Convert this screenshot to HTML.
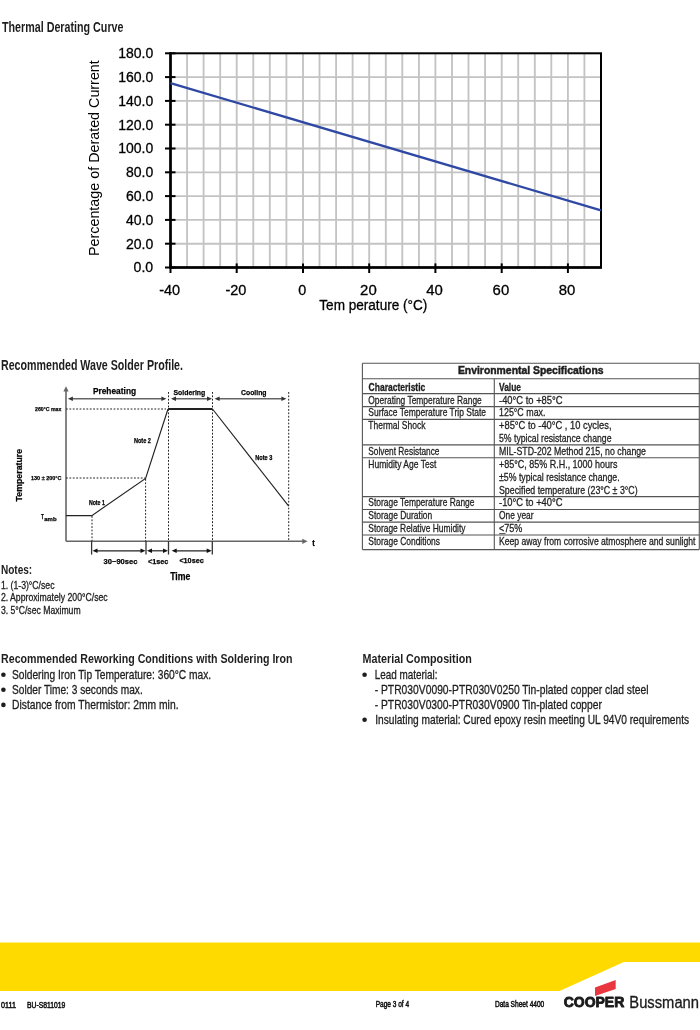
<!DOCTYPE html>
<html><head><meta charset="utf-8"><title>Data Sheet 4400</title>
<style>
html,body{margin:0;padding:0;background:#fff;}
body{width:700px;height:1030px;overflow:hidden;}
svg{display:block;font-family:"Liberation Sans", sans-serif;will-change:transform;}
</style></head><body>
<svg width="700" height="1030" viewBox="0 0 700 1030">
<text x="2.0" y="31.5" font-size="14.1" textLength="121.5" lengthAdjust="spacingAndGlyphs" font-weight="bold" fill="#1e1e1e">Thermal Derating Curve</text>
<line x1="170.5" y1="243.7" x2="601.0" y2="243.7" stroke="#c3c3c3" stroke-width="1.85"/>
<line x1="170.5" y1="219.9" x2="601.0" y2="219.9" stroke="#c3c3c3" stroke-width="1.85"/>
<line x1="170.5" y1="196.1" x2="601.0" y2="196.1" stroke="#c3c3c3" stroke-width="1.85"/>
<line x1="170.5" y1="172.3" x2="601.0" y2="172.3" stroke="#c3c3c3" stroke-width="1.85"/>
<line x1="170.5" y1="148.5" x2="601.0" y2="148.5" stroke="#c3c3c3" stroke-width="1.85"/>
<line x1="170.5" y1="124.7" x2="601.0" y2="124.7" stroke="#c3c3c3" stroke-width="1.85"/>
<line x1="170.5" y1="100.9" x2="601.0" y2="100.9" stroke="#c3c3c3" stroke-width="1.85"/>
<line x1="170.5" y1="77.1" x2="601.0" y2="77.1" stroke="#c3c3c3" stroke-width="1.85"/>
<line x1="187.1" y1="53.3" x2="187.1" y2="267.5" stroke="#c3c3c3" stroke-width="1.85"/>
<line x1="203.6" y1="53.3" x2="203.6" y2="267.5" stroke="#c3c3c3" stroke-width="1.85"/>
<line x1="220.2" y1="53.3" x2="220.2" y2="267.5" stroke="#c3c3c3" stroke-width="1.85"/>
<line x1="236.7" y1="53.3" x2="236.7" y2="267.5" stroke="#c3c3c3" stroke-width="1.85"/>
<line x1="253.3" y1="53.3" x2="253.3" y2="267.5" stroke="#c3c3c3" stroke-width="1.85"/>
<line x1="269.8" y1="53.3" x2="269.8" y2="267.5" stroke="#c3c3c3" stroke-width="1.85"/>
<line x1="286.4" y1="53.3" x2="286.4" y2="267.5" stroke="#c3c3c3" stroke-width="1.85"/>
<line x1="303.0" y1="53.3" x2="303.0" y2="267.5" stroke="#c3c3c3" stroke-width="1.85"/>
<line x1="319.5" y1="53.3" x2="319.5" y2="267.5" stroke="#c3c3c3" stroke-width="1.85"/>
<line x1="336.1" y1="53.3" x2="336.1" y2="267.5" stroke="#c3c3c3" stroke-width="1.85"/>
<line x1="352.6" y1="53.3" x2="352.6" y2="267.5" stroke="#c3c3c3" stroke-width="1.85"/>
<line x1="369.2" y1="53.3" x2="369.2" y2="267.5" stroke="#c3c3c3" stroke-width="1.85"/>
<line x1="385.8" y1="53.3" x2="385.8" y2="267.5" stroke="#c3c3c3" stroke-width="1.85"/>
<line x1="402.3" y1="53.3" x2="402.3" y2="267.5" stroke="#c3c3c3" stroke-width="1.85"/>
<line x1="418.9" y1="53.3" x2="418.9" y2="267.5" stroke="#c3c3c3" stroke-width="1.85"/>
<line x1="435.4" y1="53.3" x2="435.4" y2="267.5" stroke="#c3c3c3" stroke-width="1.85"/>
<line x1="452.0" y1="53.3" x2="452.0" y2="267.5" stroke="#c3c3c3" stroke-width="1.85"/>
<line x1="468.5" y1="53.3" x2="468.5" y2="267.5" stroke="#c3c3c3" stroke-width="1.85"/>
<line x1="485.1" y1="53.3" x2="485.1" y2="267.5" stroke="#c3c3c3" stroke-width="1.85"/>
<line x1="501.7" y1="53.3" x2="501.7" y2="267.5" stroke="#c3c3c3" stroke-width="1.85"/>
<line x1="518.2" y1="53.3" x2="518.2" y2="267.5" stroke="#c3c3c3" stroke-width="1.85"/>
<line x1="534.8" y1="53.3" x2="534.8" y2="267.5" stroke="#c3c3c3" stroke-width="1.85"/>
<line x1="551.3" y1="53.3" x2="551.3" y2="267.5" stroke="#c3c3c3" stroke-width="1.85"/>
<line x1="567.9" y1="53.3" x2="567.9" y2="267.5" stroke="#c3c3c3" stroke-width="1.85"/>
<line x1="584.4" y1="53.3" x2="584.4" y2="267.5" stroke="#c3c3c3" stroke-width="1.85"/>
<rect x="170.5" y="53.3" width="430.5" height="214.2" fill="none" stroke="#000" stroke-width="2"/>
<line x1="170.5" y1="52.3" x2="170.5" y2="268.5" stroke="#000" stroke-width="2.5"/>
<line x1="169.5" y1="267.5" x2="602.0" y2="267.5" stroke="#000" stroke-width="2.5"/>
<line x1="165.0" y1="267.5" x2="175.5" y2="267.5" stroke="#000" stroke-width="2"/>
<text x="153.2" y="272.4" font-size="15.1" textLength="19.6" lengthAdjust="spacingAndGlyphs" text-anchor="end" stroke="#000" stroke-width="0.3">0.0</text>
<line x1="165.0" y1="243.7" x2="175.5" y2="243.7" stroke="#000" stroke-width="2"/>
<text x="153.2" y="248.6" font-size="15.1" textLength="27.3" lengthAdjust="spacingAndGlyphs" text-anchor="end" stroke="#000" stroke-width="0.3">20.0</text>
<line x1="165.0" y1="219.9" x2="175.5" y2="219.9" stroke="#000" stroke-width="2"/>
<text x="153.2" y="224.8" font-size="15.1" textLength="27.3" lengthAdjust="spacingAndGlyphs" text-anchor="end" stroke="#000" stroke-width="0.3">40.0</text>
<line x1="165.0" y1="196.1" x2="175.5" y2="196.1" stroke="#000" stroke-width="2"/>
<text x="153.2" y="201.0" font-size="15.1" textLength="27.3" lengthAdjust="spacingAndGlyphs" text-anchor="end" stroke="#000" stroke-width="0.3">60.0</text>
<line x1="165.0" y1="172.3" x2="175.5" y2="172.3" stroke="#000" stroke-width="2"/>
<text x="153.2" y="177.2" font-size="15.1" textLength="27.3" lengthAdjust="spacingAndGlyphs" text-anchor="end" stroke="#000" stroke-width="0.3">80.0</text>
<line x1="165.0" y1="148.5" x2="175.5" y2="148.5" stroke="#000" stroke-width="2"/>
<text x="153.2" y="153.4" font-size="15.1" textLength="35.0" lengthAdjust="spacingAndGlyphs" text-anchor="end" stroke="#000" stroke-width="0.3">100.0</text>
<line x1="165.0" y1="124.7" x2="175.5" y2="124.7" stroke="#000" stroke-width="2"/>
<text x="153.2" y="129.6" font-size="15.1" textLength="35.0" lengthAdjust="spacingAndGlyphs" text-anchor="end" stroke="#000" stroke-width="0.3">120.0</text>
<line x1="165.0" y1="100.9" x2="175.5" y2="100.9" stroke="#000" stroke-width="2"/>
<text x="153.2" y="105.8" font-size="15.1" textLength="35.0" lengthAdjust="spacingAndGlyphs" text-anchor="end" stroke="#000" stroke-width="0.3">140.0</text>
<line x1="165.0" y1="77.1" x2="175.5" y2="77.1" stroke="#000" stroke-width="2"/>
<text x="153.2" y="82.0" font-size="15.1" textLength="35.0" lengthAdjust="spacingAndGlyphs" text-anchor="end" stroke="#000" stroke-width="0.3">160.0</text>
<line x1="165.0" y1="53.3" x2="175.5" y2="53.3" stroke="#000" stroke-width="2"/>
<text x="153.2" y="58.2" font-size="15.1" textLength="35.0" lengthAdjust="spacingAndGlyphs" text-anchor="end" stroke="#000" stroke-width="0.3">180.0</text>
<line x1="170.5" y1="263.4" x2="170.5" y2="273.0" stroke="#000" stroke-width="2"/>
<text x="169.7" y="295.0" font-size="15.1" textLength="21.0" lengthAdjust="spacingAndGlyphs" text-anchor="middle" stroke="#000" stroke-width="0.3">-40</text>
<line x1="236.7" y1="263.4" x2="236.7" y2="273.0" stroke="#000" stroke-width="2"/>
<text x="235.9" y="295.0" font-size="15.1" textLength="21.0" lengthAdjust="spacingAndGlyphs" text-anchor="middle" stroke="#000" stroke-width="0.3">-20</text>
<line x1="303.0" y1="263.4" x2="303.0" y2="273.0" stroke="#000" stroke-width="2"/>
<text x="302.2" y="295.0" font-size="15.1" textLength="8.0" lengthAdjust="spacingAndGlyphs" text-anchor="middle" stroke="#000" stroke-width="0.3">0</text>
<line x1="369.2" y1="263.4" x2="369.2" y2="273.0" stroke="#000" stroke-width="2"/>
<text x="368.4" y="295.0" font-size="15.1" textLength="16.6" lengthAdjust="spacingAndGlyphs" text-anchor="middle" stroke="#000" stroke-width="0.3">20</text>
<line x1="435.4" y1="263.4" x2="435.4" y2="273.0" stroke="#000" stroke-width="2"/>
<text x="434.6" y="295.0" font-size="15.1" textLength="16.6" lengthAdjust="spacingAndGlyphs" text-anchor="middle" stroke="#000" stroke-width="0.3">40</text>
<line x1="501.7" y1="263.4" x2="501.7" y2="273.0" stroke="#000" stroke-width="2"/>
<text x="500.9" y="295.0" font-size="15.1" textLength="16.6" lengthAdjust="spacingAndGlyphs" text-anchor="middle" stroke="#000" stroke-width="0.3">60</text>
<line x1="567.9" y1="263.4" x2="567.9" y2="273.0" stroke="#000" stroke-width="2"/>
<text x="567.1" y="295.0" font-size="15.1" textLength="16.6" lengthAdjust="spacingAndGlyphs" text-anchor="middle" stroke="#000" stroke-width="0.3">80</text>
<line x1="170.5" y1="83.1" x2="601.0" y2="210.4" stroke="#2e48a3" stroke-width="2.3"/>
<text x="319.3" y="309.5" font-size="15.1" textLength="108.0" lengthAdjust="spacingAndGlyphs" stroke="#000" stroke-width="0.3">Tem perature (°C)</text>
<text transform="translate(98.6,256) rotate(-90)" font-size="15.1" textLength="195.8" lengthAdjust="spacingAndGlyphs">Percentage of Derated  Current</text>
<text x="1.0" y="370.4" font-size="14.5" textLength="182.0" lengthAdjust="spacingAndGlyphs" font-weight="bold" fill="#1e1e1e">Recommended Wave Solder Profile.</text>
<line x1="66.0" y1="389.0" x2="66.0" y2="541.3" stroke="#666" stroke-width="1.6"/>
<path d="M66,386.2 L63.4,391.5 L68.6,391.5 Z" fill="#666" stroke="none" stroke-width="1"/>
<line x1="66.0" y1="541.3" x2="304.0" y2="541.3" stroke="#666" stroke-width="1.6"/>
<path d="M307.6,541.3 L302.3,538.7 L302.3,543.9 Z" fill="#666" stroke="none" stroke-width="1"/>
<line x1="70.9" y1="398.8" x2="163.4" y2="398.8" stroke="#666" stroke-width="1.6"/>
<path d="M67.9,398.8 L72.9,396.5 L72.9,401.1 Z" fill="#333" stroke="none" stroke-width="1"/>
<path d="M166.4,398.8 L161.4,396.5 L161.4,401.1 Z" fill="#333" stroke="none" stroke-width="1"/>
<line x1="174.0" y1="398.8" x2="209.0" y2="398.8" stroke="#666" stroke-width="1.6"/>
<path d="M171.0,398.8 L176.0,396.5 L176.0,401.1 Z" fill="#333" stroke="none" stroke-width="1"/>
<path d="M212.0,398.8 L207.0,396.5 L207.0,401.1 Z" fill="#333" stroke="none" stroke-width="1"/>
<line x1="217.6" y1="398.8" x2="283.4" y2="398.8" stroke="#666" stroke-width="1.6"/>
<path d="M214.6,398.8 L219.6,396.5 L219.6,401.1 Z" fill="#333" stroke="none" stroke-width="1"/>
<path d="M286.4,398.8 L281.4,396.5 L281.4,401.1 Z" fill="#333" stroke="none" stroke-width="1"/>
<line x1="168.5" y1="392.0" x2="168.5" y2="541.0" stroke="#222" stroke-width="1" stroke-dasharray="1.8,1.6"/>
<line x1="212.5" y1="392.0" x2="212.5" y2="541.0" stroke="#222" stroke-width="1" stroke-dasharray="1.8,1.6"/>
<line x1="288.7" y1="392.0" x2="288.7" y2="541.0" stroke="#222" stroke-width="1" stroke-dasharray="1.8,1.6"/>
<line x1="92.0" y1="516.0" x2="92.0" y2="541.0" stroke="#222" stroke-width="1" stroke-dasharray="1.8,1.6"/>
<line x1="145.6" y1="479.0" x2="145.6" y2="541.0" stroke="#222" stroke-width="1" stroke-dasharray="1.8,1.6"/>
<line x1="66.0" y1="409.0" x2="166.0" y2="409.0" stroke="#222" stroke-width="1" stroke-dasharray="1.8,1.6"/>
<line x1="66.0" y1="478.0" x2="145.0" y2="478.0" stroke="#222" stroke-width="1" stroke-dasharray="1.8,1.6"/>
<line x1="91.6" y1="541.0" x2="91.6" y2="554.6" stroke="#333" stroke-width="1.3"/>
<line x1="146.0" y1="541.0" x2="146.0" y2="554.6" stroke="#333" stroke-width="1.3"/>
<line x1="168.5" y1="541.0" x2="168.5" y2="554.6" stroke="#333" stroke-width="1.3"/>
<line x1="212.3" y1="541.0" x2="212.3" y2="554.6" stroke="#333" stroke-width="1.3"/>
<line x1="95.5" y1="550.8" x2="142.5" y2="550.8" stroke="#222" stroke-width="1.2"/>
<path d="M92.5,550.8 L97.5,548.5 L97.5,553.0999999999999 Z" fill="#111" stroke="none" stroke-width="1"/>
<path d="M145.5,550.8 L140.5,548.5 L140.5,553.0999999999999 Z" fill="#111" stroke="none" stroke-width="1"/>
<line x1="150.0" y1="550.8" x2="165.0" y2="550.8" stroke="#222" stroke-width="1.2"/>
<path d="M147,550.8 L152,548.5 L152,553.0999999999999 Z" fill="#111" stroke="none" stroke-width="1"/>
<path d="M168,550.8 L163,548.5 L163,553.0999999999999 Z" fill="#111" stroke="none" stroke-width="1"/>
<line x1="174.7" y1="550.8" x2="208.7" y2="550.8" stroke="#222" stroke-width="1.2"/>
<path d="M171.7,550.8 L176.7,548.5 L176.7,553.0999999999999 Z" fill="#111" stroke="none" stroke-width="1"/>
<path d="M211.7,550.8 L206.7,548.5 L206.7,553.0999999999999 Z" fill="#111" stroke="none" stroke-width="1"/>
<path d="M66,515.6 L91.8,515.6 L145.6,478.5 L168,409" fill="none" stroke="#222" stroke-width="1.15"/>
<line x1="168.0" y1="409.0" x2="212.5" y2="409.0" stroke="#222" stroke-width="2.2"/>
<line x1="212.5" y1="409.0" x2="288.7" y2="506.2" stroke="#222" stroke-width="1.15"/>
<text x="92.9" y="393.6" font-size="9.4" textLength="43.2" lengthAdjust="spacingAndGlyphs" font-weight="bold" stroke="#000" stroke-width="0.25">Preheating</text>
<text x="173.5" y="395.2" font-size="7.7" textLength="31.8" lengthAdjust="spacingAndGlyphs" font-weight="bold" stroke="#000" stroke-width="0.25">Soldering</text>
<text x="241.0" y="395.4" font-size="7.7" textLength="25.5" lengthAdjust="spacingAndGlyphs" font-weight="bold" stroke="#000" stroke-width="0.25">Cooling</text>
<text x="35.0" y="411.3" font-size="6" textLength="26.4" lengthAdjust="spacingAndGlyphs" font-weight="bold" stroke="#000" stroke-width="0.25">260°C max</text>
<text x="31.0" y="480.2" font-size="6" textLength="30.4" lengthAdjust="spacingAndGlyphs" font-weight="bold" stroke="#000" stroke-width="0.25">130 ± 200°C</text>
<text x="133.9" y="443.3" font-size="6.5" textLength="17.1" lengthAdjust="spacingAndGlyphs" font-weight="bold" stroke="#000" stroke-width="0.25">Note 2</text>
<text x="88.9" y="504.8" font-size="6.5" textLength="16.0" lengthAdjust="spacingAndGlyphs" font-weight="bold" stroke="#000" stroke-width="0.25">Note 1</text>
<text x="255.2" y="459.9" font-size="6.5" textLength="17.2" lengthAdjust="spacingAndGlyphs" font-weight="bold" stroke="#000" stroke-width="0.25">Note 3</text>
<text x="41.1" y="518.7" font-size="6.3" textLength="2.8" lengthAdjust="spacingAndGlyphs" font-weight="bold" stroke="#000" stroke-width="0.25">T</text>
<text x="44.3" y="520.5" font-size="6" textLength="12.3" lengthAdjust="spacingAndGlyphs" font-weight="bold" stroke="#000" stroke-width="0.25">amb</text>
<text transform="translate(22.4,501.4) rotate(-90)" font-size="9.5" font-weight="bold" stroke="#000" stroke-width="0.25" textLength="52.5" lengthAdjust="spacingAndGlyphs">Temperature</text>
<text x="103.6" y="563.6" font-size="7.5" textLength="33.8" lengthAdjust="spacingAndGlyphs" font-weight="bold" stroke="#000" stroke-width="0.25">30~90sec</text>
<text x="148.1" y="563.6" font-size="7.5" textLength="20.2" lengthAdjust="spacingAndGlyphs" font-weight="bold" stroke="#000" stroke-width="0.25">&lt;1sec</text>
<text x="179.4" y="563.4" font-size="7.5" textLength="24.3" lengthAdjust="spacingAndGlyphs" font-weight="bold" stroke="#000" stroke-width="0.25">&lt;10sec</text>
<text x="170.2" y="579.5" font-size="10.2" textLength="20.2" lengthAdjust="spacingAndGlyphs" font-weight="bold" stroke="#000" stroke-width="0.25">Time</text>
<text x="312.3" y="545.8" font-size="8.5" textLength="2.6" lengthAdjust="spacingAndGlyphs" font-weight="bold" stroke="#000" stroke-width="0.25">t</text>
<text x="0.9" y="574.1" font-size="12.8" textLength="31.3" lengthAdjust="spacingAndGlyphs" font-weight="bold" fill="#1e1e1e">Notes:</text>
<text x="0.9" y="588.7" font-size="10.2" textLength="53.6" lengthAdjust="spacingAndGlyphs" fill="#1e1e1e" stroke="#1e1e1e" stroke-width="0.3">1. (1-3)°C/sec</text>
<text x="0.9" y="601.1" font-size="10.2" textLength="106.8" lengthAdjust="spacingAndGlyphs" fill="#1e1e1e" stroke="#1e1e1e" stroke-width="0.3">2. Approximately 200°C/sec</text>
<text x="0.9" y="613.6" font-size="10.2" textLength="79.7" lengthAdjust="spacingAndGlyphs" fill="#1e1e1e" stroke="#1e1e1e" stroke-width="0.3">3. 5°C/sec Maximum</text>
<line x1="362.4" y1="363.3" x2="699.3" y2="363.3" stroke="#555" stroke-width="1.1"/>
<line x1="362.4" y1="378.8" x2="699.3" y2="378.8" stroke="#555" stroke-width="1.1"/>
<line x1="362.4" y1="393.6" x2="699.3" y2="393.6" stroke="#555" stroke-width="1.1"/>
<line x1="362.4" y1="406.6" x2="699.3" y2="406.6" stroke="#555" stroke-width="1.1"/>
<line x1="362.4" y1="419.4" x2="699.3" y2="419.4" stroke="#555" stroke-width="1.1"/>
<line x1="362.4" y1="444.9" x2="699.3" y2="444.9" stroke="#555" stroke-width="1.1"/>
<line x1="362.4" y1="457.8" x2="699.3" y2="457.8" stroke="#555" stroke-width="1.1"/>
<line x1="362.4" y1="496.6" x2="699.3" y2="496.6" stroke="#555" stroke-width="1.1"/>
<line x1="362.4" y1="509.5" x2="699.3" y2="509.5" stroke="#555" stroke-width="1.1"/>
<line x1="362.4" y1="522.1" x2="699.3" y2="522.1" stroke="#555" stroke-width="1.1"/>
<line x1="362.4" y1="535.0" x2="699.3" y2="535.0" stroke="#555" stroke-width="1.1"/>
<line x1="362.4" y1="549.6" x2="699.3" y2="549.6" stroke="#555" stroke-width="1.1"/>
<line x1="362.4" y1="363.3" x2="362.4" y2="549.6" stroke="#555" stroke-width="1.1"/>
<line x1="699.3" y1="363.3" x2="699.3" y2="549.6" stroke="#555" stroke-width="1.1"/>
<line x1="494.3" y1="378.8" x2="494.3" y2="549.6" stroke="#555" stroke-width="1.1"/>
<text x="457.9" y="374.3" font-size="10.6" textLength="145.7" lengthAdjust="spacingAndGlyphs" font-weight="bold" fill="#1e1e1e" stroke="#1e1e1e" stroke-width="0.45">Environmental Specifications</text>
<text x="368.6" y="390.5" font-size="10.3" textLength="56.7" lengthAdjust="spacingAndGlyphs" font-weight="bold" fill="#1e1e1e" stroke="#1e1e1e" stroke-width="0.3">Characteristic</text>
<text x="499.0" y="390.5" font-size="10.3" textLength="22.0" lengthAdjust="spacingAndGlyphs" font-weight="bold" fill="#1e1e1e" stroke="#1e1e1e" stroke-width="0.3">Value</text>
<text x="368.3" y="403.6" font-size="11.3" textLength="113.5" lengthAdjust="spacingAndGlyphs" fill="#1e1e1e" stroke="#1e1e1e" stroke-width="0.3">Operating Temperature Range</text>
<text x="368.3" y="415.6" font-size="11.3" textLength="117.8" lengthAdjust="spacingAndGlyphs" fill="#1e1e1e" stroke="#1e1e1e" stroke-width="0.3">Surface Temperature Trip State</text>
<text x="368.3" y="428.7" font-size="11.3" textLength="57.1" lengthAdjust="spacingAndGlyphs" fill="#1e1e1e" stroke="#1e1e1e" stroke-width="0.3">Thermal Shock</text>
<text x="368.3" y="454.6" font-size="11.3" textLength="71.2" lengthAdjust="spacingAndGlyphs" fill="#1e1e1e" stroke="#1e1e1e" stroke-width="0.3">Solvent Resistance</text>
<text x="368.3" y="467.5" font-size="11.3" textLength="68.1" lengthAdjust="spacingAndGlyphs" fill="#1e1e1e" stroke="#1e1e1e" stroke-width="0.3">Humidity Age Test</text>
<text x="368.3" y="506.3" font-size="11.3" textLength="106.2" lengthAdjust="spacingAndGlyphs" fill="#1e1e1e" stroke="#1e1e1e" stroke-width="0.3">Storage Temperature Range</text>
<text x="368.3" y="518.9" font-size="11.3" textLength="63.9" lengthAdjust="spacingAndGlyphs" fill="#1e1e1e" stroke="#1e1e1e" stroke-width="0.3">Storage Duration</text>
<text x="368.3" y="531.8" font-size="11.3" textLength="97.2" lengthAdjust="spacingAndGlyphs" fill="#1e1e1e" stroke="#1e1e1e" stroke-width="0.3">Storage Relative Humidity</text>
<text x="368.3" y="544.7" font-size="11.3" textLength="71.7" lengthAdjust="spacingAndGlyphs" fill="#1e1e1e" stroke="#1e1e1e" stroke-width="0.3">Storage Conditions</text>
<text x="499.0" y="403.6" font-size="11.3" textLength="63.6" lengthAdjust="spacingAndGlyphs" fill="#1e1e1e" stroke="#1e1e1e" stroke-width="0.3">-40°C to +85°C</text>
<text x="499.0" y="415.6" font-size="11.3" textLength="46.5" lengthAdjust="spacingAndGlyphs" fill="#1e1e1e" stroke="#1e1e1e" stroke-width="0.3">125°C max.</text>
<text x="499.0" y="428.7" font-size="11.3" textLength="112.5" lengthAdjust="spacingAndGlyphs" fill="#1e1e1e" stroke="#1e1e1e" stroke-width="0.3">+85°C  to -40°C , 10 cycles,</text>
<text x="499.0" y="441.6" font-size="11.3" textLength="112.5" lengthAdjust="spacingAndGlyphs" fill="#1e1e1e" stroke="#1e1e1e" stroke-width="0.3">5% typical resistance change</text>
<text x="499.0" y="454.6" font-size="11.3" textLength="147.0" lengthAdjust="spacingAndGlyphs" fill="#1e1e1e" stroke="#1e1e1e" stroke-width="0.3">MIL-STD-202 Method 215, no change</text>
<text x="499.0" y="467.5" font-size="11.3" textLength="118.5" lengthAdjust="spacingAndGlyphs" fill="#1e1e1e" stroke="#1e1e1e" stroke-width="0.3">+85°C, 85% R.H., 1000 hours</text>
<text x="499.0" y="480.5" font-size="11.3" textLength="120.6" lengthAdjust="spacingAndGlyphs" fill="#1e1e1e" stroke="#1e1e1e" stroke-width="0.3">±5% typical resistance change.</text>
<text x="499.0" y="493.6" font-size="11.3" textLength="138.6" lengthAdjust="spacingAndGlyphs" fill="#1e1e1e" stroke="#1e1e1e" stroke-width="0.3">Specified temperature (23°C ± 3°C)</text>
<text x="499.0" y="506.3" font-size="11.3" textLength="63.6" lengthAdjust="spacingAndGlyphs" fill="#1e1e1e" stroke="#1e1e1e" stroke-width="0.3">-10°C to +40°C</text>
<text x="499.0" y="518.9" font-size="11.3" textLength="34.5" lengthAdjust="spacingAndGlyphs" fill="#1e1e1e" stroke="#1e1e1e" stroke-width="0.3">One year</text>
<text x="499.0" y="531.8" font-size="11.3" textLength="23.4" lengthAdjust="spacingAndGlyphs" fill="#1e1e1e" stroke="#1e1e1e" stroke-width="0.3">&lt;75%</text>
<text x="499.0" y="544.7" font-size="11.3" textLength="196.5" lengthAdjust="spacingAndGlyphs" fill="#1e1e1e" stroke="#1e1e1e" stroke-width="0.3">Keep away from corrosive atmosphere and sunlight</text>
<line x1="499.2" y1="533.6" x2="505.5" y2="533.6" stroke="#1e1e1e" stroke-width="0.8"/>
<text x="1.1" y="662.8" font-size="12.8" textLength="291.4" lengthAdjust="spacingAndGlyphs" font-weight="bold" fill="#1e1e1e">Recommended Reworking Conditions with Soldering Iron</text>
<circle cx="3.4" cy="674.8" r="2.3" fill="#1e1e1e"/>
<text x="12.0" y="678.9" font-size="12.6" textLength="199.2" lengthAdjust="spacingAndGlyphs" fill="#1e1e1e" stroke="#1e1e1e" stroke-width="0.3">Soldering Iron Tip Temperature: 360°C max.</text>
<circle cx="3.4" cy="689.8" r="2.3" fill="#1e1e1e"/>
<text x="12.0" y="693.9" font-size="12.6" textLength="130.7" lengthAdjust="spacingAndGlyphs" fill="#1e1e1e" stroke="#1e1e1e" stroke-width="0.3">Solder Time: 3 seconds max.</text>
<circle cx="3.4" cy="704.9" r="2.3" fill="#1e1e1e"/>
<text x="12.0" y="709.0" font-size="12.6" textLength="166.5" lengthAdjust="spacingAndGlyphs" fill="#1e1e1e" stroke="#1e1e1e" stroke-width="0.3">Distance from Thermistor: 2mm min.</text>
<text x="362.5" y="662.8" font-size="12.8" textLength="109.3" lengthAdjust="spacingAndGlyphs" font-weight="bold" fill="#1e1e1e">Material Composition</text>
<circle cx="364.6" cy="674.8" r="2.3" fill="#1e1e1e"/>
<circle cx="364.6" cy="719.8" r="2.3" fill="#1e1e1e"/>
<text x="374.7" y="678.9" font-size="12.6" textLength="62.8" lengthAdjust="spacingAndGlyphs" fill="#1e1e1e" stroke="#1e1e1e" stroke-width="0.3">Lead material:</text>
<text x="374.7" y="693.9" font-size="12.6" textLength="273.9" lengthAdjust="spacingAndGlyphs" fill="#1e1e1e" stroke="#1e1e1e" stroke-width="0.3">- PTR030V0090-PTR030V0250 Tin-plated copper clad steel</text>
<text x="374.7" y="708.9" font-size="12.6" textLength="227.3" lengthAdjust="spacingAndGlyphs" fill="#1e1e1e" stroke="#1e1e1e" stroke-width="0.3">- PTR030V0300-PTR030V0900 Tin-plated copper</text>
<text x="375.2" y="723.9" font-size="12.6" textLength="313.9" lengthAdjust="spacingAndGlyphs" fill="#1e1e1e" stroke="#1e1e1e" stroke-width="0.3">Insulating material: Cured epoxy resin meeting UL 94V0 requirements</text>
<path d="M0,942.4 L700,942.4 L700,962.1 L623.9,962.1 L559.6,991.0 L0,991.0 Z" fill="#FFDA00" stroke="none" stroke-width="1"/>
<path d="M595,987.5 L615.7,980 L615.7,988.9 L595,996.1 Z" fill="#E8373E" stroke="none" stroke-width="1"/>
<text x="563.7" y="1007.4" font-size="14.9" textLength="60.6" lengthAdjust="spacingAndGlyphs" font-weight="900" fill="#1a1a1a" stroke="#1a1a1a" stroke-width="0.9" stroke-linejoin="round">COOPER</text>
<text x="629.3" y="1007.6" font-size="15.6" textLength="69.7" lengthAdjust="spacingAndGlyphs" fill="#1a1a1a" stroke="#1a1a1a" stroke-width="0.3">Bussmann</text>
<text x="1.1" y="1007.6" font-size="8.5" textLength="14.9" lengthAdjust="spacingAndGlyphs" fill="#111" stroke="#111" stroke-width="0.5">0111</text>
<text x="27.1" y="1007.6" font-size="8.5" textLength="38.3" lengthAdjust="spacingAndGlyphs" fill="#111" stroke="#111" stroke-width="0.5">BU-S811019</text>
<text x="375.7" y="1007.3" font-size="8.5" textLength="33.4" lengthAdjust="spacingAndGlyphs" fill="#111" stroke="#111" stroke-width="0.5">Page 3 of 4</text>
<text x="494.9" y="1007.3" font-size="8.5" textLength="49.4" lengthAdjust="spacingAndGlyphs" fill="#111" stroke="#111" stroke-width="0.5">Data Sheet 4400</text>
</svg>
</body></html>
